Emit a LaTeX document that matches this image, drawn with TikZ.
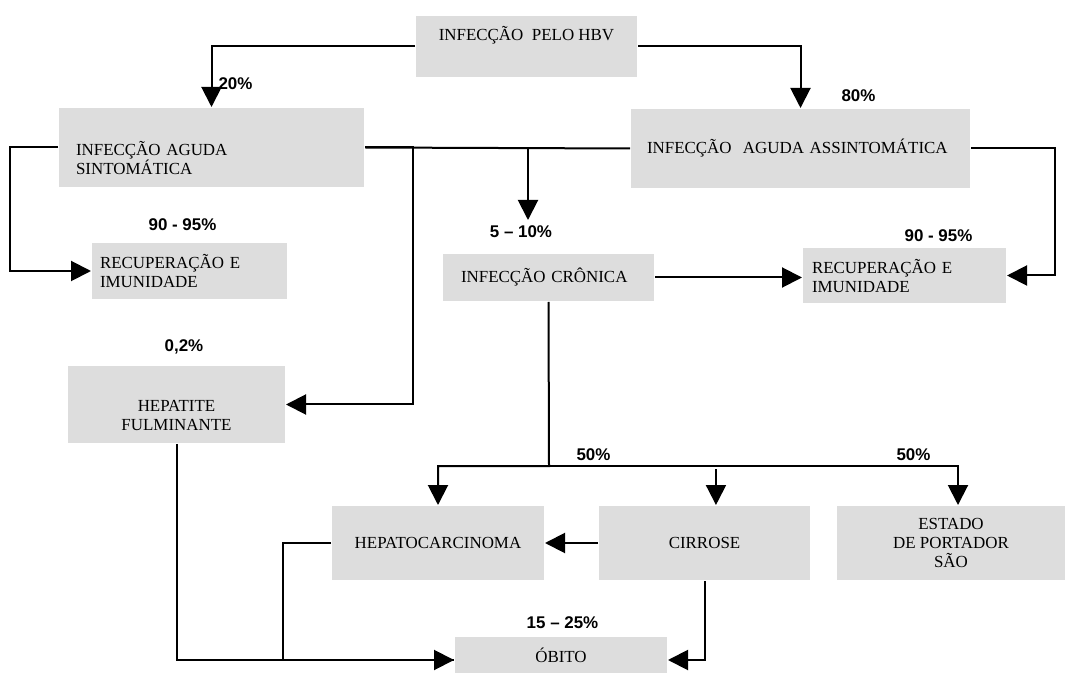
\documentclass[tikz,border=0pt]{standalone}
\usepackage{fontspec}
\setmainfont{Liberation Serif}
\newfontfamily\pctfont{Liberation Sans}
\usepackage{tikz}
\usetikzlibrary{arrows.meta}

\definecolor{boxgray}{RGB}{221,221,221}

\begin{document}
\begin{tikzpicture}[x=0.75pt, y=-0.75pt,
    box/.style={fill=boxgray, inner ysep=0pt, font=\fontsize{12.7}{14.25}\selectfont},
    pct/.style={font=\pctfont\bfseries\fontsize{12.7}{14}\selectfont, inner sep=0pt},
    >={Triangle[length=15pt, width=15pt]}, line width=1.5pt]
    \useasboundingbox (0,0) rectangle (1071,673);

    % boxes
    \node[box, minimum width=165.75pt, minimum height=45.75pt, align=center] (hbv) at (526.5, 46.5){INFECÇÃO~ PELO HBV\\[6pt]\mbox{}};
    \node[box, minimum width=228.75pt, minimum height=59.25pt, inner xsep=12.75pt, text width=203.25pt, align=left] (sint) at (211.5, 147.5){\strut\\INFECÇÃO AGUDA\\SINTOMÁTICA};
    \node[box, minimum width=254.25pt, minimum height=59.25pt, inner xsep=12pt, text width=230.25pt, align=left] (asint) at (800.5, 148.5){INFECÇÃO~ AGUDA ASSINTOMÁTICA};
    \node[box, minimum width=146.25pt, minimum height=42pt, inner xsep=6pt, text width=134.25pt, align=left] (recl) at (189.5, 271){RECUPERAÇÃO E\\IMUNIDADE};
    \node[box, minimum width=158.25pt, minimum height=35.25pt, inner xsep=13.5pt, text width=131.25pt, align=left] (cron) at (548.5, 277.5){INFECÇÃO CRÔNICA};
    \node[box, minimum width=152.25pt, minimum height=41.25pt, inner xsep=6.75pt, text width=138.75pt, align=left] (recr) at (904.5, 275.5){RECUPERAÇÃO E\\IMUNIDADE};
    \node[box, minimum width=162.75pt, minimum height=57.75pt, align=center] (hep) at (176.5, 404.5){\strut\\HEPATITE\\FULMINANTE};
    \node[box, minimum width=159pt, minimum height=55.5pt, align=center] (hcc) at (438, 543){HEPATOCARCINOMA};
    \node[box, minimum width=158.25pt, minimum height=55.5pt, align=center] (cirr) at (704.5, 543){CIRROSE};
    \node[box, minimum width=171pt, minimum height=55.5pt, align=center] (est) at (951, 543){ESTADO\\DE PORTADOR\\SÃO};
    \node[box, minimum width=159pt, minimum height=34.5pt, align=center] (obito) at (561, 660){ÓBITO\\[-6.75pt]\mbox{}};

    % percentages
    \node[pct] (p20) at (235.5, 84){20\%};
    \node[pct] (p80) at (858.5, 96){80\%};
    \node[pct] (p90l) at (182.5, 225){90 - 95\%};
    \node[pct] (p510) at (521, 232){5 \textendash{} 10\%};
    \node[pct] (p90r) at (938.5, 236){90 - 95\%};
    \node[pct] (p02) at (184, 347){0,2\%};
    \node[pct] (p50l) at (593.5, 455){50\%};
    \node[pct] (p50r) at (913.5, 455){50\%};
    \node[pct] (p1525) at (562.5, 623){15 \textendash{} 25\%};

    \coordinate (split) at (528, 147.5);
    \coordinate (cronin) at (528, 220);
    \coordinate (fork) at (549, 466);

    \draw[->] (hbv.west) -| (sint.north);
    \draw[->] (hbv.east) -| (asint.north);
    \draw[->] (sint.west) -- ++(-48,0) |- (recl.west);
    \draw (sint.east) -- (asint.west);
    \draw[->] (sint.east) -- ++(48,0) |- (hep.east);
    \draw[->] (split) -- (cronin);
    \draw[->] (asint.east) -- ++(84,0) |- (recr.east);
    \draw[->] (cron.east) -- (cron.east -| recr.west);
    \draw[->] (cron.south) -- (fork) -| (hcc.north);
    \draw[->] (fork) -| ([xshift=5.25pt]est.north);
    \draw[->] ([xshift=8.6pt, yshift=27pt]cirr.north) -- ([xshift=8.6pt]cirr.north);
    \draw[->] (cirr.west) -- (hcc.east);
    \draw[->] (cirr.south) |- (obito.east);
    \draw (hcc.west) -- ++(-48,0) |- (obito.west);
    \draw[->] (hep.south) |- (obito.west);
\end{tikzpicture}
\end{document}
